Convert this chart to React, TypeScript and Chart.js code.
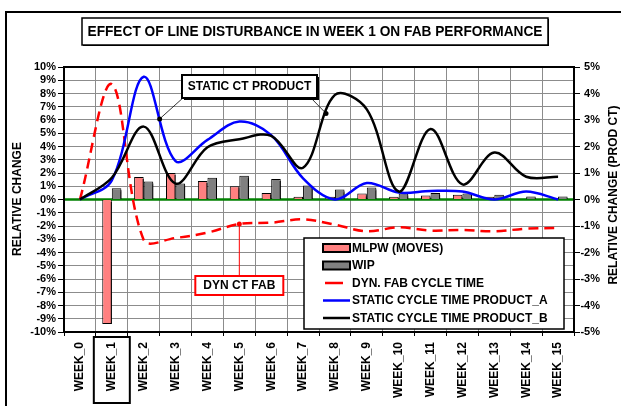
import React, { useEffect, useRef } from 'react';
import { Chart, registerables } from 'chart.js';

Chart.register(...registerables);

const weeks = ['WEEK_0', 'WEEK_1', 'WEEK_2', 'WEEK_3', 'WEEK_4', 'WEEK_5', 'WEEK_6', 'WEEK_7', 'WEEK_8', 'WEEK_9', 'WEEK_10', 'WEEK_11', 'WEEK_12', 'WEEK_13', 'WEEK_14', 'WEEK_15'];
const mlpwMoves = [null, -9.4, 1.7, 2.0, 1.4, 1.0, 0.5, 0.2, 0.2, 0.45, 0.2, 0.3, 0.35, 0.2, 0.05, null];
const wip = [null, 0.85, 1.35, 1.2, 1.65, 1.8, 1.55, 1.05, 0.75, 0.9, 0.45, 0.5, 0.45, 0.35, 0.22, 0.22];
const dynFabCycleTime = [0, 8.7, -3.05, -2.9, -2.5, -1.85, -1.75, -1.5, -1.9, -2.4, -2.1, -2.35, -2.3, -2.4, -2.2, -2.15];
const staticCtProductA = [0, 0.72, 4.63, 1.45, 2.25, 2.94, 2.43, 0.8, 0.0, 0.62, 0.26, 0.32, 0.3, 0.0, 0.3, 0.0];
const staticCtProductB = [0, 0.82, 2.75, 0.6, 1.97, 2.27, 2.4, 1.2, 3.95, 3.4, 0.3, 2.66, 0.57, 1.77, 0.86, 0.86];
const leftAxisRange = [-10, 10];
const rightAxisRange = [-5, 5];

const TITLE = 'EFFECT OF LINE DISTURBANCE IN WEEK 1 ON FAB PERFORMANCE';
const LEFT_TITLE = 'RELATIVE CHANGE';
const RIGHT_TITLE = 'RELATIVE CHANGE (PROD CT)';
const FONT = '"Liberation Sans", Arial, sans-serif';

const W = 621;
const H = 406;
const AREA = { left: 64, right: 574, top: 67, bottom: 332 };

const overlayPlugin = {
  id: 'overlay',
  beforeDatasetsDraw(chart: any) {
    const { ctx, chartArea: a, scales } = chart;
    const y0 = scales.y.getPixelForValue(0);
    ctx.save();
    ctx.strokeStyle = '#008000';
    ctx.lineWidth = 2.5;
    ctx.beginPath();
    ctx.moveTo(a.left, y0);
    ctx.lineTo(a.right, y0);
    ctx.stroke();
    ctx.restore();
  },
  beforeDatasetDraw(chart: any, args: any) {
    if (chart.data.datasets[args.index].type === 'bar') {
      const ctx = chart.ctx;
      ctx.save();
      ctx.shadowColor = '#000';
      ctx.shadowOffsetX = 2;
      ctx.shadowOffsetY = 2;
      ctx.shadowBlur = 0;
    }
  },
  afterDatasetDraw(chart: any, args: any) {
    if (chart.data.datasets[args.index].type === 'bar') {
      chart.ctx.restore();
    }
  },
  afterDraw(chart: any) {
    const { ctx, chartArea: a, scales } = chart;
    ctx.save();

    // plot border
    ctx.strokeStyle = '#000';
    ctx.lineWidth = 2;
    ctx.strokeRect(a.left, a.top, a.right - a.left, a.bottom - a.top);

    // outer chart border
    ctx.lineWidth = 2;
    ctx.strokeRect(6, 12, 900, 700);

    const shadowBox = (x: number, y: number, w: number, h: number, color: string, lw: number, sh: number) => {
      if (sh > 0) {
        ctx.fillStyle = '#000';
        ctx.fillRect(x + sh, y + sh, w, h);
      }
      ctx.fillStyle = '#fff';
      ctx.fillRect(x, y, w, h);
      ctx.strokeStyle = color;
      ctx.lineWidth = lw;
      ctx.strokeRect(x, y, w, h);
    };

    // title box
    shadowBox(82, 18, 466, 27, '#000', 1.5, 1);
    ctx.fillStyle = '#000';
    ctx.font = `bold 14px ${FONT}`;
    ctx.textAlign = 'center';
    ctx.textBaseline = 'middle';
    ctx.fillText(TITLE, 315, 32, 455);

    // axis titles
    ctx.font = `bold 12px ${FONT}`;
    ctx.save();
    ctx.translate(18, 199);
    ctx.rotate(-Math.PI / 2);
    ctx.fillText(LEFT_TITLE, 0, 0);
    ctx.restore();
    ctx.save();
    ctx.translate(614, 195);
    ctx.rotate(-Math.PI / 2);
    ctx.fillText(RIGHT_TITLE, 0, 0);
    ctx.restore();

    // WEEK_1 box
    const x1 = scales.x.getPixelForValue(1);
    ctx.strokeStyle = '#000';
    ctx.lineWidth = 2;
    ctx.strokeRect(x1 - 18, a.bottom + 5, 36, 66);

    // STATIC CT PRODUCT callout
    const yR = scales.y1;
    const xs = scales.x;
    const dotA = { x: xs.getPixelForValue(2.5), y: yR.getPixelForValue(3.04) };
    const dotB = { x: xs.getPixelForValue(7.72), y: yR.getPixelForValue(3.25) };
    ctx.strokeStyle = '#000';
    ctx.lineWidth = 0.8;
    ctx.beginPath();
    ctx.moveTo(184, 97);
    ctx.lineTo(dotA.x, dotA.y);
    ctx.moveTo(310, 97);
    ctx.lineTo(dotB.x, dotB.y);
    ctx.stroke();
    ctx.fillStyle = '#000';
    [dotA, dotB].forEach((d) => {
      ctx.beginPath();
      ctx.arc(d.x, d.y, 2.5, 0, Math.PI * 2);
      ctx.fill();
    });
    shadowBox(182, 75, 135, 23, '#000', 2, 2);
    ctx.fillStyle = '#000';
    ctx.font = `bold 12px ${FONT}`;
    ctx.textAlign = 'center';
    ctx.fillText('STATIC CT PRODUCT', 249.5, 87);

    // DYN CT FAB callout
    const redPt = chart.getDatasetMeta(2).data[5];
    ctx.strokeStyle = '#ff0000';
    ctx.lineWidth = 1;
    ctx.beginPath();
    ctx.moveTo(redPt.x, redPt.y);
    ctx.lineTo(redPt.x, 276);
    ctx.stroke();
    ctx.fillStyle = '#ff0000';
    ctx.beginPath();
    ctx.arc(redPt.x, redPt.y, 2.5, 0, Math.PI * 2);
    ctx.fill();
    shadowBox(redPt.x - 44, 276, 88, 19, '#ff0000', 2, 0);
    ctx.fillStyle = '#000';
    ctx.fillText('DYN CT FAB', redPt.x, 286);

    // legend
    const lx = 304, ly = 238, lw = 260, lh = 91;
    ctx.fillStyle = '#fff';
    ctx.fillRect(lx, ly, lw, lh);
    ctx.strokeStyle = '#000';
    ctx.lineWidth = 1.5;
    ctx.strokeRect(lx, ly, lw, lh);
    ctx.font = `bold 12px ${FONT}`;
    ctx.textAlign = 'left';
    ctx.textBaseline = 'middle';
    chart.data.datasets.forEach((ds: any, i: number) => {
      const cy = 248 + i * 17.5;
      if (ds.type === 'bar') {
        ctx.fillStyle = ds.backgroundColor;
        ctx.fillRect(323, cy - 4, 27, 8);
        ctx.strokeStyle = '#000';
        ctx.lineWidth = 2;
        ctx.strokeRect(323, cy - 4, 27, 8);
      } else {
        ctx.strokeStyle = ds.borderColor;
        ctx.lineWidth = 2.5;
        ctx.beginPath();
        if (ds.borderDash && ds.borderDash.length) {
          ctx.moveTo(325, cy);
          ctx.lineTo(343, cy);
        } else {
          ctx.moveTo(323, cy);
          ctx.lineTo(350, cy);
        }
        ctx.stroke();
      }
      ctx.fillStyle = '#000';
      ctx.fillText(ds.label, 352, cy + 0.5);
    });

    ctx.restore();
  },
};

export default function App() {
  const ref = useRef<HTMLCanvasElement | null>(null);

  useEffect(() => {
    document.body.style.margin = '0';
    const canvas = ref.current;
    if (!canvas) return;
    const tickFont = { family: FONT, size: 11, weight: 'bold' as const };
    const chart = new Chart(canvas, {
      type: 'bar',
      data: {
        labels: weeks,
        datasets: [
          {
            type: 'bar',
            label: 'MLPW (MOVES)',
            data: mlpwMoves,
            backgroundColor: '#ff8080',
            borderColor: '#000',
            borderWidth: 1,
            yAxisID: 'y',
            order: 10,
            categoryPercentage: 0.6,
            barPercentage: 1.0,
          },
          {
            type: 'bar',
            label: 'WIP',
            data: wip,
            backgroundColor: '#808080',
            borderColor: '#000',
            borderWidth: 1,
            yAxisID: 'y',
            order: 10,
            categoryPercentage: 0.6,
            barPercentage: 1.0,
          },
          {
            type: 'line',
            label: 'DYN. FAB CYCLE TIME',
            data: dynFabCycleTime,
            borderColor: '#ff0000',
            borderWidth: 2.5,
            borderDash: [10, 6],
            pointRadius: 0,
            tension: 0.35,
            fill: false,
            yAxisID: 'y',
            order: 3,
          },
          {
            type: 'line',
            label: 'STATIC CYCLE TIME PRODUCT_A',
            data: staticCtProductA,
            borderColor: '#0000ff',
            borderWidth: 2.5,
            pointRadius: 0,
            tension: 0.35,
            fill: false,
            yAxisID: 'y1',
            order: 2,
          },
          {
            type: 'line',
            label: 'STATIC CYCLE TIME PRODUCT_B',
            data: staticCtProductB,
            borderColor: '#000000',
            borderWidth: 2.5,
            pointRadius: 0,
            tension: 0.35,
            fill: false,
            yAxisID: 'y1',
            order: 1,
          },
        ] as any,
      },
      options: {
        responsive: false,
        animation: false,
        devicePixelRatio: 1,
        layout: { padding: { top: AREA.top, left: 0, right: W - AREA.right - 26, bottom: 0 } },
        plugins: {
          legend: { display: false },
          title: { display: false },
          tooltip: { enabled: false },
        },
        scales: {
          x: {
            offset: true,
            grid: {
              offset: true,
              color: '#8c8c8c',
              lineWidth: 1,
              tickLength: 4,
              tickColor: '#000',
            },
            border: { display: false },
            ticks: {
              font: { family: FONT, size: 12, weight: 'bold' },
              color: '#000',
              minRotation: 90,
              maxRotation: 90,
              padding: 6,
              autoSkip: false,
            },
            afterFit: (s: any) => {
              s.height = H - AREA.bottom;
            },
          },
          y: {
            position: 'left',
            min: leftAxisRange[0],
            max: leftAxisRange[1],
            grid: {
              color: '#8c8c8c',
              lineWidth: 1,
              tickLength: 6,
              tickColor: '#000',
            },
            border: { display: false },
            ticks: {
              stepSize: 1,
              autoSkip: false,
              font: tickFont,
              color: '#000',
              padding: 2,
              callback: (v: any) => `${v}%`,
            },
            afterFit: (s: any) => {
              s.width = AREA.left;
            },
          },
          y1: {
            position: 'right',
            min: rightAxisRange[0],
            max: rightAxisRange[1],
            grid: {
              drawOnChartArea: false,
              tickLength: 6,
              tickColor: '#000',
            },
            border: { display: false },
            ticks: {
              stepSize: 1,
              autoSkip: false,
              font: tickFont,
              color: '#000',
              padding: 2,
              crossAlign: 'far',
              callback: (v: any) => `${v}%`,
            },
            afterFit: (s: any) => {
              s.width = 26;
            },
          },
        },
      } as any,
      plugins: [overlayPlugin],
    });
    return () => chart.destroy();
  }, []);

  return (
    <div style={{ position: 'absolute', left: 0, top: 0, width: W, height: H, background: '#fff' }}>
      <canvas ref={ref} width={W} height={H} style={{ display: 'block', width: W, height: H }} />
    </div>
  );
}
